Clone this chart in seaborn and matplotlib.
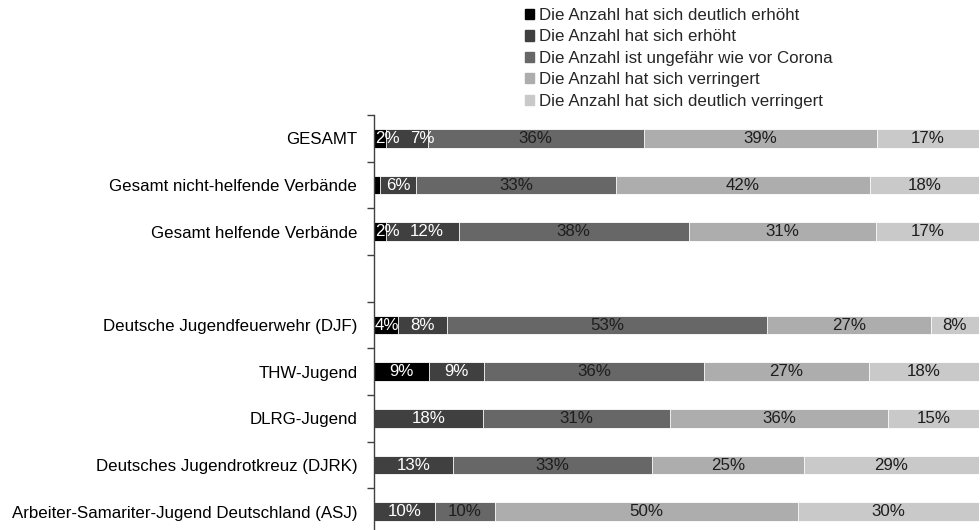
import numpy as np
import pandas as pd
import seaborn as sns
import matplotlib
matplotlib.use("Agg")
from matplotlib import pyplot as plt
from matplotlib.ticker import FixedLocator

categories = [
    "GESAMT",
    "Gesamt nicht-helfende Verbände",
    "Gesamt helfende Verbände",
    "Deutsche Jugendfeuerwehr (DJF)",
    "THW-Jugend",
    "DLRG-Jugend",
    "Deutsches Jugendrotkreuz (DJRK)",
    "Arbeiter-Samariter-Jugend Deutschland (ASJ)",
]
# order of rows on the axis, with one blank slot after the totals
row_order = categories[:3] + [" "] + categories[3:]

series = [
    "Die Anzahl hat sich deutlich erhöht",
    "Die Anzahl hat sich erhöht",
    "Die Anzahl ist ungefähr wie vor Corona",
    "Die Anzahl hat sich verringert",
    "Die Anzahl hat sich deutlich verringert",
]
deutlich_erhoeht = [2, 1, 2, 4, 9, 0, 0, 0]
erhoeht = [7, 6, 12, 8, 9, 18, 13, 10]
ungefaehr = [36, 33, 38, 53, 36, 31, 33, 10]
verringert = [39, 42, 31, 27, 27, 36, 25, 50]
deutlich_verringert = [17, 18, 17, 8, 18, 15, 29, 30]

colors = ["#000000", "#404040", "#676767", "#adadad", "#c9c9c9"]
text_colors = ["white", "white", "#1e1e1e", "#1e1e1e", "#1e1e1e"]

FS = 12.2

sns.set_style("white")
plt.rcParams["font.family"] = ["Liberation Sans", "DejaVu Sans"]
plt.rcParams["font.size"] = FS

vals = np.array([deutlich_erhoeht, erhoeht, ungefaehr, verringert,
                 deutlich_verringert], dtype=float).T
shares = vals / vals.sum(axis=1, keepdims=True) * 100
cum = np.cumsum(shares, axis=1)

df = pd.DataFrame(cum, columns=series)
df["cat"] = categories

fig = plt.figure(figsize=(9.8, 5.3), dpi=100)
ax = fig.add_axes([374 / 980, -5 / 530, 605 / 980, 420 / 530])

# stacked bars: draw cumulative totals from the widest down
for i in range(len(series) - 1, -1, -1):
    sns.barplot(data=df, x=series[i], y="cat", order=row_order,
                color=colors[i], saturation=1, width=0.4, orient="h",
                edgecolor="white", linewidth=0.6, ax=ax)

ax.set_xlim(0, 100)
ax.set_ylim(len(row_order) - 0.5, -0.5)
ax.set_xlabel("")
ax.set_ylabel("")
ax.xaxis.set_visible(False)
for s in ["top", "right", "bottom"]:
    ax.spines[s].set_visible(False)
ax.spines["left"].set_color("#404040")
ax.spines["left"].set_linewidth(1.0)
ax.set_yticks(range(len(row_order)))
ax.set_yticklabels(row_order, fontsize=FS, color="black")
ax.yaxis.set_minor_locator(FixedLocator(np.arange(-0.5, len(row_order), 1)))
ax.tick_params(axis="y", which="both", left=True)
ax.tick_params(axis="y", which="major", length=0, pad=12)
ax.tick_params(axis="y", which="minor", length=5, width=1.0,
               color="#404040", direction="out")

# value labels
row_texts = []
for r, cat in enumerate(categories):
    y = row_order.index(cat)
    texts = []
    left = 0
    for i in range(len(series)):
        w = shares[r, i]
        v = int(vals[r, i])
        if v >= 2:
            t = ax.text(left + w / 2, y, f"{v}%", ha="center", va="center",
                        fontsize=FS, color=text_colors[i])
            texts.append(t)
        left += w
    row_texts.append(texts)

# keep labels inside the axis and apart from each other
fig.canvas.draw()
rend = fig.canvas.get_renderer()
ax_left = ax.transAxes.transform((0, 0))[0]
inv = ax.transData.inverted()
for texts in row_texts:
    prev_right = None
    for t in texts:
        bb = t.get_window_extent(rend)
        shift = 0
        if bb.x0 < ax_left + 1:
            shift = ax_left + 1 - bb.x0
        if prev_right is not None and bb.x0 + shift < prev_right + 10:
            shift = prev_right + 10 - bb.x0
        if shift:
            cx, cy = ax.transData.transform(t.get_position())
            t.set_x(inv.transform((cx + shift, cy))[0])
        prev_right = bb.x1 + shift

handles = [plt.Rectangle((0, 0), 1, 1, color=c) for c in colors]
fig.legend(handles, series, loc="upper left",
           bbox_to_anchor=(525 / 980, 1 - 8 / 530), frameon=False,
           fontsize=FS, handlelength=0.55, handleheight=0.55,
           handletextpad=0.3, labelspacing=0.38, borderpad=0,
           borderaxespad=0)

fig.savefig("out.png", dpi=100)
